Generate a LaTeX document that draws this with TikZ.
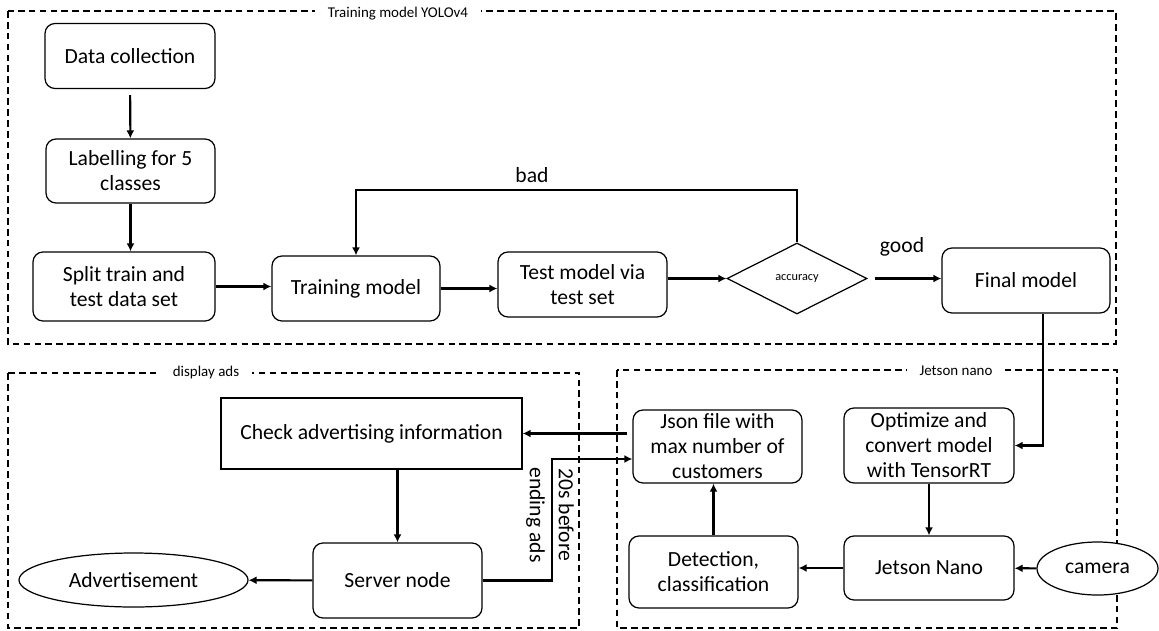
\documentclass[tikz,border=0pt]{standalone}
\usepackage{fontspec}
\setmainfont{Carlito}
\usetikzlibrary{shapes.geometric,arrows.meta}

\tikzset{
  stepnode/.style={draw, rounded corners=0.2cm, line width=0.7pt, align=center,
    inner sep=0pt, minimum width=3.38cm, minimum height=1.3cm,
    font=\fontsize{12.3}{14.2}\selectfont},
  plainnode/.style={stepnode, rounded corners=0pt},
  roundnode/.style={draw, ellipse, line width=0.7pt, fill=white, inner sep=0pt,
    font=\fontsize{12.3}{14.2}\selectfont},
  checknode/.style={draw, diamond, line width=0.7pt, inner sep=0pt,
    minimum width=2.8cm, minimum height=1.42cm, font=\fontsize{7}{8}\selectfont},
  frame/.style={line width=0.6pt, dash pattern=on 3.8pt off 2.4pt},
  framelabel/.style={fill=white, inner xsep=0.25cm, inner ysep=1pt,
    font=\fontsize{8.5}{10}\selectfont},
  edgelabel/.style={font=\fontsize{12.3}{14.2}\selectfont, inner sep=1pt},
  arr/.style={-{Latex[length=4.5pt,width=4.5pt]}, line width=1.2pt},
}

\begin{document}
\begin{tikzpicture}[x=0.2mm, y=-0.2mm]
  \useasboundingbox (0,0) rectangle (1159,630);
  % group frames
  \draw[frame] (8,11) rectangle (1116,344);
  \draw[frame] (8,373) rectangle (579,628);
  \draw[frame] (617,370) rectangle (1117,628);
  \node[framelabel] (g1) at (398,14) {Training model YOLOv4};
  \node[framelabel] (g2) at (206,373) {display ads};
  \node[framelabel] (g3) at (956,371) {Jetson nano};

  % training
  \node[stepnode, minimum width=3.4cm] (t1) at (130,56) {Data collection};
  \node[stepnode, minimum height=1.28cm] (t2) at (130.5,171) {Labelling for 5\\classes};
  \node[stepnode, minimum width=3.64cm, minimum height=1.38cm] (t3) at (124,286.5) {Split train and\\test data set};
  \node[stepnode, minimum width=3.36cm] (t4) at (356,288.5) {Training model};
  \node[stepnode] (t5) at (582.5,284.5) {Test model via\\test set};
  \node[checknode] (t6) at (797,278.5) {accuracy};
  \node[stepnode, minimum width=3.36cm] (t7) at (1026,280.5) {Final model};
  \coordinate (b1) at (797,190);
  \node[edgelabel] (l1) at (532,175) {bad};
  \node[edgelabel] (l2) at (902,247) {good};

  % jetson
  \node[stepnode, minimum width=3.4cm, minimum height=1.5cm] (j1) at (929,445.5) {Optimize and\\convert model\\with TensorRT};
  \node[stepnode, minimum width=3.4cm, minimum height=1.28cm] (j2) at (929,568) {Jetson Nano};
  \node[stepnode, minimum height=1.44cm] (j3) at (713.5,572) {Detection,\\classification};
  \node[stepnode, minimum height=1.46cm] (j4) at (717.5,446.5) {Json file with\\max number of\\customers};
  \node[roundnode, minimum width=2.42cm, minimum height=1.06cm] (c1) at (1097.5,568.5) {camera};

  % ads
  \node[plainnode, minimum width=6.02cm, minimum height=1.42cm] (a1) at (371.5,433.5) {Check advertising information};
  \node[stepnode, minimum height=1.5cm] (a2) at (397.5,580.5) {Server node};
  \node[roundnode, minimum width=4.58cm, minimum height=1.08cm] (a3) at (133.5,580) {Advertisement};
  \coordinate (s1) at (552,459);
  \node[edgelabel, rotate=-90, align=center, font=\fontsize{12.3}{16.6}\selectfont] (l3) at (550,515) {20s before\\ending ads};

  \draw[arr, shorten <=0.12cm] (t1) -- (t2);
  \draw[arr] (t2.south) -- (t2.south |- t3.north);
  \draw[arr] (t3.east) -- (t3.east -| t4.west);
  \draw[arr] (t4.east) -- (t4.east -| t5.west);
  \draw[arr] (t6.west -| t5.east) -- (t6.west);
  \draw[arr, shorten <=0.14cm] (t6.east) -- (t6.east -| t7.west);
  \draw[arr] (t6.north) -- (b1) -| (t4.north);
  \draw[arr] ([xshift=0.34cm]t7.south) |- (j1.east);
  \draw[arr] (j1) -- (j2);
  \draw[arr] (c1) -- (j2);
  \draw[arr] (j2.west) -- (j2.west -| j3.east);
  \draw[arr] (j3.north) -- (j3.north |- j4.south);
  \draw[arr, shorten <=0.1cm] (j4.west |- a1.east) -- (a1.east);
  \draw[arr] (a2.north |- a1.south) -- (a2.north);
  \draw[arr] (a2) -- (a3);
  \draw[arr] (a2.east) -| (s1) -- (s1 -| j4.west);
\end{tikzpicture}
\end{document}
